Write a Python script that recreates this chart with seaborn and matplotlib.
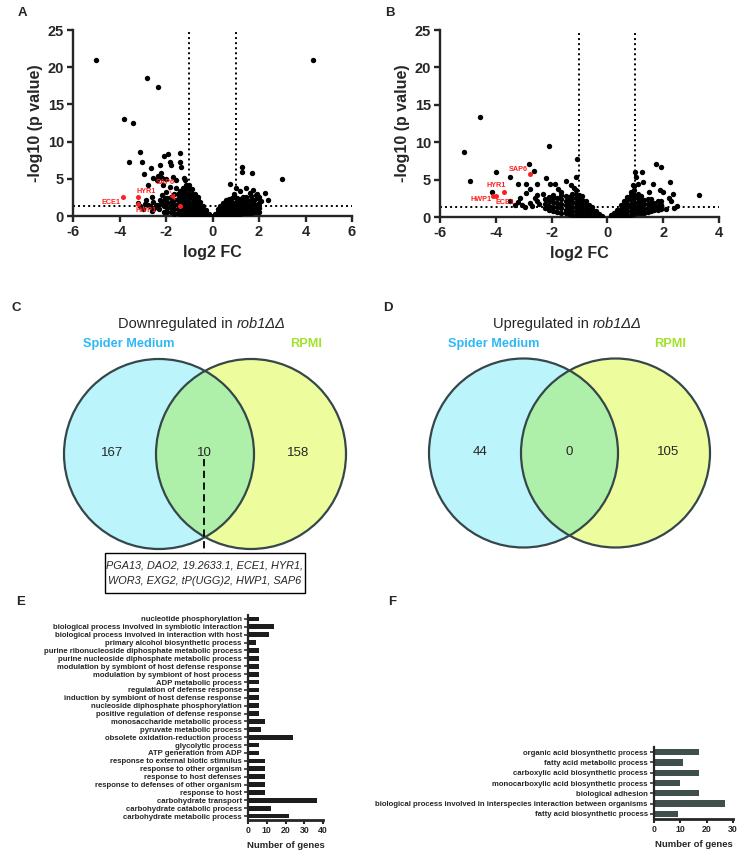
import matplotlib
matplotlib.use("Agg")
import matplotlib.pyplot as plt
import seaborn as sns
import pandas as pd
from matplotlib.patches import Circle, Rectangle

# ---------------- data ----------------
# A: volcano, Spider medium (log2 FC, -log10 p) for the scattered genes
a_spread = [(-5.0, 21.0), (-2.82, 18.5), (-2.33, 17.3), (-3.81, 13.0), (-3.41, 12.5),
            (-3.12, 8.55), (-3.58, 7.25), (-3.02, 7.25), (-2.95, 5.7), (-2.66, 6.4),
            (-2.26, 6.85), (-2.23, 5.75), (-1.93, 8.3), (-2.08, 8.0), (-1.84, 7.3),
            (-1.78, 6.8), (-1.4, 8.5), (-1.4, 7.2), (-1.37, 6.6), (-2.35, 5.4),
            (-2.55, 5.06), (-2.38, 4.8), (-2.19, 5.15), (-2.0, 4.95), (-1.7, 5.2),
            (-1.55, 4.8), (-1.24, 5.1), (-1.2, 4.8), (-2.77, 4.17), (-2.12, 4.17),
            (-1.84, 3.9), (-1.55, 3.8), (-2.84, 2.15), (-2.62, 2.6), (-2.55, 1.9),
            (-2.26, 2.15), (-2.19, 2.8), (-1.98, 3.25), (-2.05, 2.4), (-2.77, 1.5),
            (-3.2, 1.8), (-3.1, 1.3), (-2.4, 1.5), (-2.3, 0.9), (-2.5, 1.1),
            (-2.6, 0.7), (-2.2, 1.6), (-2.9, 1.6), (-3.0, 0.9), (-2.7, 1.3),
            (0.75, 4.25), (1.0, 3.8), (1.29, 6.6), (1.29, 5.85), (1.69, 5.75),
            (1.44, 3.7), (1.76, 3.5), (1.9, 3.0), (2.26, 3.05), (2.37, 2.1),
            (3.0, 5.0), (4.32, 21.0), (1.6, 3.1), (1.2, 3.3), (2.1, 2.0),
            (2.0, 2.6), (1.85, 2.8)]
# A: the dense cloud, -log10 p values per log2 FC column
a_cloud = {-2.1: [0.6, 1.4, 2.0], -1.95: [0.5, 1.1, 1.7, 2.4], -1.8: [0.5, 1.2, 1.9, 2.6],
           -1.65: [0.3, 0.9, 1.5, 2.2, 2.9], -1.5: [0.4, 1.0, 1.6, 2.3, 3.0],
           -1.38: [0.3, 0.9, 1.5, 2.1, 2.8, 3.4], -1.25: [0.2, 0.8, 1.4, 2.0, 2.6, 3.2, 3.8],
           -1.12: [0.2, 0.7, 1.3, 1.9, 2.5, 3.1, 3.7, 4.2],
           -1.0: [0.2, 0.7, 1.2, 1.8, 2.4, 3.0, 3.6, 4.1],
           -0.88: [0.2, 0.7, 1.2, 1.8, 2.4, 3.0, 3.6], -0.76: [0.1, 0.6, 1.1, 1.7, 2.3, 2.9],
           -0.64: [0.1, 0.5, 1.0, 1.5, 2.1, 2.5], -0.52: [0.1, 0.5, 0.9, 1.4, 1.9],
           -0.4: [0.1, 0.4, 0.8, 1.3], -0.28: [0.05, 0.4, 0.8], -0.16: [0.05, 0.3],
           -0.05: [0.02], 0.1: [0.05, 0.3], 0.22: [0.1, 0.5, 0.9], 0.34: [0.1, 0.5, 1.0, 1.3],
           0.46: [0.2, 0.7, 1.2, 1.7], 0.58: [0.3, 0.8, 1.3, 1.8, 2.2],
           0.7: [0.3, 0.8, 1.3, 1.8, 2.3], 0.82: [0.3, 0.8, 1.3, 1.8, 2.4],
           0.94: [0.3, 0.8, 1.3, 1.8, 2.5, 3.0], 1.06: [0.3, 0.8, 1.3, 1.9, 2.4],
           1.18: [0.3, 0.8, 1.3, 1.8, 2.3], 1.3: [0.4, 0.9, 1.4, 2.0, 2.6],
           1.42: [0.4, 0.9, 1.4, 1.9, 2.5], 1.54: [0.4, 0.9, 1.4, 2.0],
           1.66: [0.4, 0.9, 1.5, 2.1, 2.7], 1.78: [0.5, 1.0, 1.6, 2.2],
           1.9: [0.5, 1.0, 1.5, 2.4], 2.0: [0.6, 1.1, 1.8]}
a_genes = ["ECE1", "HYR1", "HWP1", "SAP6"]
a_red_x = [-3.84, -3.21, -3.22, -1.4]
a_red_y = [2.5, 2.5, 1.55, 1.35]

# B: volcano, RPMI
b_spread = [(-4.55, 13.4), (-5.14, 8.7), (-4.93, 4.75), (-4.0, 6.0), (-2.09, 9.55),
            (-2.8, 7.05), (-2.64, 6.1), (-3.5, 5.3), (-3.22, 4.4), (-2.9, 4.4),
            (-2.52, 4.4), (-2.21, 5.2), (-2.04, 4.4), (-1.89, 4.4), (-1.49, 4.8),
            (-1.11, 5.4), (-1.09, 7.8), (-4.15, 3.35), (-3.5, 2.2), (-3.14, 2.6),
            (-2.9, 3.25), (-2.78, 3.7), (-2.54, 3.0), (-3.2, 2.0), (-3.07, 1.55),
            (-2.78, 1.9), (-2.54, 2.2), (-2.3, 3.05), (-1.77, 3.8), (-1.65, 3.35),
            (-2.95, 1.4), (-2.7, 1.5), (-2.45, 1.7), (-3.3, 1.6), (-2.6, 2.6),
            (-1.95, 3.0), (-1.3, 4.3), (-1.2, 3.9),
            (1.73, 7.1), (1.91, 6.7), (0.98, 6.07), (1.24, 6.07), (1.04, 5.4),
            (1.28, 4.7), (1.63, 4.46), (2.23, 4.7), (1.87, 3.66), (1.99, 3.35),
            (2.35, 3.1), (3.3, 2.9), (2.29, 2.2), (2.5, 1.5), (2.11, 1.1),
            (1.93, 1.6), (2.4, 1.2), (2.2, 2.6), (1.5, 3.4), (1.1, 4.4), (0.9, 4.3)]
b_cloud = {-2.25: [1.2, 1.8, 2.4], -2.1: [0.9, 1.5, 2.1, 2.7], -1.95: [0.8, 1.4, 2.0, 2.6],
           -1.8: [0.7, 1.3, 1.9, 2.5], -1.65: [0.6, 1.2, 1.8, 2.4, 2.9],
           -1.5: [0.5, 1.0, 1.6, 2.2, 2.8], -1.38: [0.4, 0.9, 1.5, 2.1, 2.7],
           -1.26: [0.3, 0.8, 1.4, 2.0, 2.6, 3.1], -1.14: [0.3, 0.8, 1.3, 1.9, 2.5, 3.1, 3.6],
           -1.02: [0.2, 0.7, 1.2, 1.8, 2.4, 3.0], -0.9: [0.2, 0.7, 1.2, 1.7, 2.3, 2.8],
           -0.78: [0.2, 0.6, 1.1, 1.6, 2.2], -0.66: [0.1, 0.5, 1.0, 1.6],
           -0.54: [0.1, 0.5, 0.9, 1.3], -0.42: [0.1, 0.4, 0.8], -0.3: [0.05, 0.4],
           -0.18: [0.05, 0.2], 0.12: [0.05, 0.3], 0.24: [0.1, 0.5], 0.36: [0.1, 0.5, 1.0],
           0.48: [0.2, 0.6, 1.1, 1.6], 0.6: [0.2, 0.7, 1.2, 1.7, 2.1],
           0.72: [0.3, 0.8, 1.3, 1.8, 2.3, 2.7], 0.84: [0.3, 0.8, 1.3, 1.8, 2.4, 2.9, 3.3],
           0.96: [0.4, 0.9, 1.4, 1.9, 2.5, 3.0, 3.6, 4.2],
           1.08: [0.5, 1.0, 1.5, 2.0, 2.6, 3.1], 1.2: [0.6, 1.1, 1.6, 2.2, 2.8],
           1.32: [0.6, 1.1, 1.7, 2.3], 1.44: [0.7, 1.2, 1.8, 2.4], 1.56: [0.8, 1.3, 1.9, 2.4],
           1.68: [0.9, 1.4, 1.9], 1.8: [1.0, 1.5, 2.1], 1.92: [1.1, 1.6, 2.2]}
b_genes = ["SAP6", "HYR1", "HWP1", "ECE1"]
b_red_x = [-2.77, -3.69, -4.1, -4.0]
b_red_y = [5.76, 3.3, 2.85, 2.8]

# C / D: Venn counts (Spider only, shared, RPMI only)
venn_down = [167, 10, 158]
venn_up = [44, 0, 105]
shared_genes = ["PGA13, DAO2, 19.2633.1, ECE1, HYR1,", "WOR3, EXG2, tP(UGG)2, HWP1, SAP6"]

# E: GO terms, downregulated
e_terms = ["nucleotide phosphorylation",
           "biological process involved in symbiotic interaction",
           "biological process involved in interaction with host",
           "primary alcohol biosynthetic process",
           "purine ribonucleoside diphosphate metabolic process",
           "purine nucleoside diphosphate metabolic process",
           "modulation by symbiont of host defense response",
           "modulation by symbiont of host process",
           "ADP metabolic process",
           "regulation of defense response",
           "induction by symbiont of host defense response",
           "nucleoside diphosphate phosphorylation",
           "positive regulation of defense response",
           "monosaccharide metabolic process",
           "pyruvate metabolic process",
           "obsolete oxidation-reduction process",
           "glycolytic process",
           "ATP generation from ADP",
           "response to external biotic stimulus",
           "response to other organism",
           "response to host defenses",
           "response to defenses of other organism",
           "response to host",
           "carbohydrate transport",
           "carbohydrate catabolic process",
           "carbohydrate metabolic process"]
e_counts = [6, 14, 11, 4, 6, 6, 6, 6, 6, 6, 6, 6, 6, 9, 7, 24, 6, 6, 9, 9, 9, 9, 9, 37, 12, 22]

# F: GO terms, upregulated
f_terms = ["organic acid biosynthetic process",
           "fatty acid metabolic process",
           "carboxylic acid biosynthetic process",
           "monocarboxylic acid biosynthetic process",
           "biological adhesion",
           "biological process involved in interspecies interaction between organisms",
           "fatty acid biosynthetic process"]
f_counts = [17, 11, 17, 10, 17, 27, 9]

# ---------------- style ----------------
sns.set_style("ticks")
plt.rcParams['font.family'] = ['Liberation Sans', 'DejaVu Sans']
plt.rcParams['axes.unicode_minus'] = False
W, H = 737, 852
fig = plt.figure(figsize=(W / 100, H / 100), dpi=100)


def px_rect(l, t, r, b):
    return [l / W, 1 - b / H, (r - l) / W, (b - t) / H]


# overlay in pixel units for letters and Venn diagrams
ov = fig.add_axes([0, 0, 1, 1])
ov.set_xlim(0, W)
ov.set_ylim(H, 0)
ov.axis('off')

for letter, lx, ly in [("A", 22, 13), ("B", 390, 13), ("C", 16, 308),
                       ("D", 388, 308), ("E", 21, 602), ("F", 392, 602)]:
    ov.text(lx, ly, letter, fontsize=9.5, fontweight='bold', ha='center', va='center')


def volcano(ax, spread, cloud, red_x, red_y, genes, label_pos, xlim, xticks, arrow_gene=None):
    pts = list(spread) + [(x, y) for x, ys in cloud.items() for y in ys]
    df = pd.DataFrame(pts, columns=["log2FC", "nlogp"])
    ax.axhline(1.3, color='black', lw=1.4, ls=(0, (1, 1.6)), zorder=1)
    ax.axvline(-1, color='black', lw=1.4, ls=(0, (1, 1.6)), zorder=1)
    ax.axvline(1, color='black', lw=1.4, ls=(0, (1, 1.6)), zorder=1)
    sns.scatterplot(data=df, x="log2FC", y="nlogp", color='black', s=15,
                    linewidth=0, ax=ax, zorder=3)
    sns.scatterplot(x=red_x, y=red_y, color='#ff1f1f', s=13, linewidth=0, ax=ax, zorder=4)
    for g, px_, py_ in zip(genes, red_x, red_y):
        tx, ty, ha = label_pos[g]
        if g == arrow_gene:
            ax.annotate(g, xy=(px_ - 0.2, py_ + 0.75), xytext=(tx, ty), color='#ff1f1f',
                        fontsize=5.2, fontweight='bold', ha=ha, va='center', zorder=5,
                        arrowprops=dict(arrowstyle='-|>', color='#ff1f1f', lw=0.5,
                                        mutation_scale=9, shrinkA=1, shrinkB=0))
        else:
            ax.text(tx, ty, g, color='#ff1f1f', fontsize=5.2, fontweight='bold',
                    ha=ha, va='center', zorder=5)
    ax.set_xlim(*xlim)
    ax.set_ylim(0, 25)
    ax.set_xticks(xticks)
    ax.set_yticks([0, 5, 10, 15, 20, 25])
    sns.despine(ax=ax)
    for s in ['left', 'bottom']:
        ax.spines[s].set_linewidth(1.7)
    ax.tick_params(width=1.7, length=4.5, labelsize=10.5, pad=2)
    for t in ax.get_xticklabels() + ax.get_yticklabels():
        t.set_fontweight('bold')
    ax.set_xlabel("log2 FC", fontsize=11.5, fontweight='bold', labelpad=4)
    ax.set_ylabel("-log10 (p value)", fontsize=11.5, fontweight='bold', labelpad=3)


ax_a = fig.add_axes(px_rect(73, 30, 352, 216))
volcano(ax_a, a_spread, a_cloud, a_red_x, a_red_y, a_genes,
        {"ECE1": (-3.95, 1.8, 'right'), "HYR1": (-3.25, 3.35, 'left'),
         "HWP1": (-3.3, 0.7, 'left'), "SAP6": (-2.45, 4.5, 'left')},
        (-6, 6), [-6, -4, -2, 0, 2, 4, 6], arrow_gene="SAP6")

ax_b = fig.add_axes(px_rect(440, 30, 719, 217))
volcano(ax_b, b_spread, b_cloud, b_red_x, b_red_y, b_genes,
        {"SAP6": (-2.85, 6.4, 'right'), "HYR1": (-4.35, 4.2, 'left'),
         "HWP1": (-4.15, 2.3, 'right'), "ECE1": (-4.0, 1.9, 'left')},
        (-6, 4), [-6, -4, -2, 0, 2, 4])

# ---------------- Venn diagrams ----------------
cyan, yellow, green, edge = '#bcf4fb', '#edfd9d', '#aef0aa', '#36474a'


def venn(counts, cl, cr, cy, r, title_x, title_reg, num_x):
    left = Circle((cl, cy), r, facecolor=cyan, edgecolor='none', zorder=1)
    right = Circle((cr, cy), r, facecolor=yellow, edgecolor='none', zorder=1)
    ov.add_patch(left)
    ov.add_patch(right)
    mid = Circle((cr, cy), r, facecolor=green, edgecolor='none', zorder=2)
    ov.add_patch(mid)
    mid.set_clip_path(left)
    for c in (cl, cr):
        ov.add_patch(Circle((c, cy), r, fill=False, edgecolor=edge, lw=1.6, zorder=3))
    ov.text(title_x - 2, 324, title_reg, fontsize=10.5, ha='right', va='center')
    ov.text(title_x + 2, 324, "rob1ΔΔ", fontsize=10.5, style='italic', ha='left', va='center')
    ov.text((cl + cl - r * 0.65) / 2 + 1, 344, "Spider Medium", color='#2cb9f5',
            fontsize=9.2, fontweight='bold', ha='center', va='center')
    ov.text(cr + r * 0.58, 344, "RPMI", color='#a3e22c', fontsize=9.2,
            fontweight='bold', ha='center', va='center')
    for n, x in zip(counts, num_x):
        ov.text(x, cy - 1, str(n), fontsize=9.5, ha='center', va='center', zorder=4)


venn(venn_down, 159, 251, 454, 95, 235, "Downregulated in", [112, 204, 298])
venn(venn_up, 523.5, 615.5, 453, 94.5, 591, "Upregulated in", [480, 569, 668])

# dashed pointer to shared genes box
ov.plot([204, 204], [459, 553], color='black', lw=1.3, ls=(0, (4, 2.5)), zorder=5)
ov.add_patch(Rectangle((105, 553), 200, 40, fill=False, edgecolor='black', lw=1.0, zorder=5))
for i, line in enumerate(shared_genes):
    ov.text(205, 566 + i * 15, line, fontsize=7.8, style='italic', ha='center', va='center',
            zorder=6)


# ---------------- GO bar charts ----------------
def go_bars(ax, terms, counts, color, xmax):
    sns.barplot(x=counts, y=terms, color=color, saturation=1, width=0.6,
                orient='h', linewidth=0, ax=ax)
    ax.set_xlim(0, xmax)
    ax.set_xticks(list(range(0, xmax + 1, 10)))
    sns.despine(ax=ax)
    ax.spines['left'].set_linewidth(1.6)
    ax.spines['bottom'].set_linewidth(2.0)
    ax.tick_params(axis='y', length=3, width=1.1, labelsize=5.6, pad=1.5)
    ax.tick_params(axis='x', length=3, width=1.5, labelsize=6.3, pad=1.5)
    for t in ax.get_xticklabels() + ax.get_yticklabels():
        t.set_fontweight('bold')
    ax.set_ylabel("")
    ax.set_xlabel("Number of genes", fontsize=6.8, fontweight='bold', labelpad=4)


ax_e = fig.add_axes(px_rect(248, 615, 323, 820))
go_bars(ax_e, e_terms, e_counts, '#1d1d1d', 40)

ax_f = fig.add_axes(px_rect(654, 747, 733, 819))
go_bars(ax_f, f_terms, f_counts, '#3e4f4c', 30)

fig.savefig("out.png", dpi=100)
